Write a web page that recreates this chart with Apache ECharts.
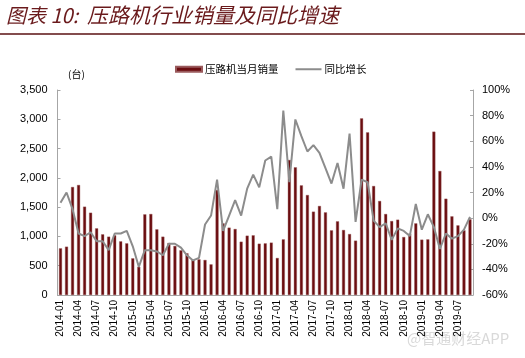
<!DOCTYPE html>
<html>
<head>
<meta charset="utf-8">
<script src="https://cdn.jsdelivr.net/npm/echarts@6/dist/echarts.min.js"></script>
<style>
html,body{margin:0;padding:0;background:#fff;}
#c{width:525px;height:358px;}
</style>
</head>
<body>
<div id="c"></div>
<script>
// categories 2014-01 .. 2019-09
const years = [2014, 2015, 2016, 2017, 2018, 2019];
const categories = [];
years.forEach(function (y) {
  for (let m = 1; m <= 12; m++) {
    if (y === 2019 && m > 9) break;
    categories.push(y + '-' + (m < 10 ? '0' + m : m));
  }
});

const sales = [
  797, 825, 1844, 1878, 1508, 1405, 1138, 1036, 996, 1019, 916, 882,
  626, 480, 1377, 1383, 1121, 996, 888, 837, 763, 712, 598, 609,
  598, 523, 1793, 1223, 1150, 1127, 910, 1013, 1019, 876, 882, 894,
  632, 950, 2305, 2180, 1872, 1707, 1423, 1520, 1411, 1104, 1258, 1110,
  1041, 928, 3016, 2777, 1861, 1605, 1383, 1263, 1286, 990, 1047, 1223,
  945, 950, 2789, 2117, 1644, 1343, 1189, 1104, 1292
];

const yoy = [
  12, 20, 7, -12, -14, -11, -18, -18, -25, -12, -12, -10,
  -22, -38, -25, -25, -26, -29, -20, -20, -23, -29, -33, -31,
  -5, 2, 30, -10, 2, 14, 2, 23, 34, 24, 45, 48,
  7, 84, 28, 77, 64, 52, 57, 51, 39, 27, 43, 23,
  66, -3, 30, 28, -2, -7, -4, -17, -8, -10, -14, 11,
  -9, 3, -7, -24, -12, -16, -14, -9, 1
];

const leftTicks = { min: 0, max: 3500, interval: 500 };
const rightTicks = { min: -60, max: 100, interval: 20 };

const chart = echarts.init(document.getElementById('c'), null, { renderer: 'canvas' });
const baseFont = '"Liberation Sans", Arial, sans-serif';
chart.setOption({
  animation: false,
  backgroundColor: '#fff',
  textStyle: { fontFamily: baseFont },
  legend: {
    left: 170, top: 59,
    itemWidth: 26, itemHeight: 5, itemGap: 17,
    textStyle: { fontSize: 10.5, color: '#000', fontFamily: '"Noto Sans CJK SC", sans-serif', padding: [0, 0, 0, -2] },
    data: [
      { name: '压路机当月销量', icon: 'rect' },
      { name: '同比增长', icon: 'path://M0,0H130V10H0Z', itemStyle: { color: '#8c8c8c' } }
    ]
  },
  grid: { left: 57.5, right: 52, top: 90, bottom: 63, containLabel: false },
  xAxis: {
    type: 'category',
    data: categories,
    boundaryGap: true,
    axisLine: { lineStyle: { color: '#a6a6a6', width: 1 } },
    axisTick: { show: false },
    axisLabel: {
      interval: 2, rotate: 90, fontSize: 10, color: '#000', margin: 5,
      fontFamily: baseFont
    }
  },
  yAxis: [
    {
      type: 'value', min: leftTicks.min, max: leftTicks.max, interval: leftTicks.interval,
      axisLine: { show: true, lineStyle: { color: '#a6a6a6' } },
      axisTick: { show: true, inside: true, length: 3, lineStyle: { color: '#a6a6a6' } },
      splitLine: { show: false },
      axisLabel: {
        fontSize: 11, color: '#000', margin: 10, fontFamily: baseFont,
        formatter: function (v) { return v.toLocaleString('en-US'); }
      }
    },
    {
      type: 'value', min: rightTicks.min, max: rightTicks.max, interval: rightTicks.interval,
      position: 'right',
      axisLine: { show: true, lineStyle: { color: '#a6a6a6' } },
      axisTick: { show: true, inside: true, length: 3, lineStyle: { color: '#a6a6a6' } },
      splitLine: { show: false },
      axisLabel: {
        fontSize: 11, color: '#000', margin: 9, fontFamily: baseFont,
        formatter: function (v) { return v + '%'; }
      }
    }
  ],
  series: [
    {
      name: '压路机当月销量', type: 'bar', yAxisIndex: 0, data: sales,
      barWidth: 3,
      itemStyle: { color: '#6b0d10', borderColor: '#9a5a5c', borderWidth: 0.4 }
    },
    {
      name: '同比增长', type: 'line', yAxisIndex: 1, data: yoy,
      symbol: 'none', smooth: false,
      lineStyle: { color: '#8c8c8c', width: 2 },
      itemStyle: { color: '#8c8c8c' }
    }
  ],
  graphic: [
    {
      type: 'text', left: 6, top: 5,
      style: {
        text: '图表 10:',
        fill: '#6a1a1c',
        font: 'italic 20px "Noto Sans CJK SC", sans-serif'
      }
    },
    {
      type: 'text', left: 87, top: 5,
      style: {
        text: '压路机行业销量及同比增速',
        fill: '#6a1a1c',
        font: 'italic 21px "Noto Sans CJK SC", sans-serif'
      }
    },
    {
      type: 'line',
      shape: { x1: 0, y1: 34, x2: 525, y2: 34 },
      style: { stroke: '#5a1012', lineWidth: 1.5 }
    },
    {
      type: 'text', left: 68, top: 69,
      style: { text: '(台)', fill: '#000', font: '10px "Noto Sans CJK SC", sans-serif' }
    },
    {
      type: 'text', left: 407, top: 331,
      style: { text: '@智通财经APP', fill: '#d9d9d9', font: '15px "Noto Sans CJK SC", sans-serif' }
    }
  ]
});
</script>
</body>
</html>
